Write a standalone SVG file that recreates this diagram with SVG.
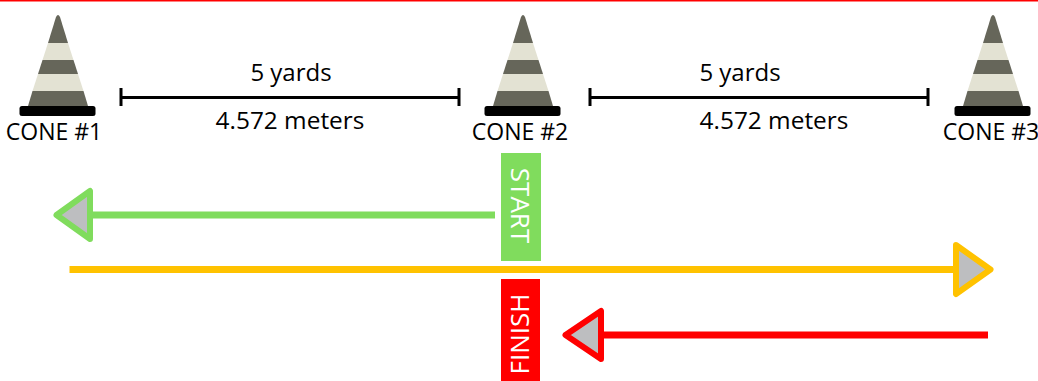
<svg xmlns="http://www.w3.org/2000/svg" width="1038" height="381" viewBox="0 0 1038 381">
<style>
text{font-family:"Open Sans","Noto Sans","DejaVu Sans",sans-serif;font-size:24px;fill:#000;text-anchor:middle}
.c{font-size:23px}
.w{font-size:24.400px}
.lbl{fill:#fff;font-size:26px}
.m{stroke:#000;stroke-width:3;fill:none}
.arrow{fill:#bdbec0;stroke-width:6;stroke-linejoin:round}
.ln{fill:none;stroke-width:7}
.dk{fill:#66665a}.lt{fill:#e3e2d3}
</style>
<defs>
<g id="cone">
<path class="dk" d="M-2 17Q0 13 2 17L10 43H-10Z"/>
<path class="lt" d="M-10 43H10L15.500 60H-15.500Z"/>
<path class="dk" d="M-15.500 60H15.500L20 74H-20Z"/>
<path class="lt" d="M-20 74H20L25.500 91H-25.500Z"/>
<path class="dk" d="M-25.500 91H25.500L30 106H-30Z"/>
<rect x="-38.500" y="106" width="76" height="10" rx="2.500" fill="#000"/>
</g>
</defs>
<rect width="1038" height="381" fill="#fff"/>
<rect width="1038" height="1.500" fill="#f00"/>
<g id="cone1"><use href="#cone" x="58"/><text class="c" x="54" y="140">CONE #1</text></g>
<g id="cone2"><use href="#cone" x="523"/><text class="c" x="520" y="140">CONE #2</text></g>
<g id="cone3"><use href="#cone" x="993"/><text class="c" x="991" y="140">CONE #3</text></g>
<g id="measure1"><path class="m" d="M121 97.500H459M121 88V106M459 88V106"/><text x="291" y="81">5 yards</text><text class="w" x="290" y="128.500">4.572 meters</text></g>
<g id="measure2"><path class="m" d="M590 97.500H928M590 88V106M928 88V106"/><text x="740" y="81">5 yards</text><text class="w" x="774" y="128.500">4.572 meters</text></g>
<g id="start"><rect x="501" y="153" width="40" height="108" fill="#80dc5d"/><text class="lbl" transform="translate(511 205.500) rotate(90)">START</text></g>
<g id="finish"><rect x="501" y="279" width="39" height="102" fill="#f00"/><text class="lbl" transform="translate(529 334) rotate(-90)">FINISH</text></g>
<g id="connectors">
<path class="ln" stroke="#80dc5d" d="M495 215H90"/>
<path class="arrow" stroke="#80dc5d" d="M56.500 215L90 191V239Z"/>
<path class="ln" stroke="#ffc200" d="M69.500 269.500H956"/>
<path class="arrow" stroke="#ffc200" d="M956 245L990.500 269.500L956 294Z"/>
<path class="ln" stroke="#f00" d="M988 335H601"/>
<path class="arrow" stroke="#f00" d="M565.500 335L601 311V359Z"/>
</g>
</svg>
